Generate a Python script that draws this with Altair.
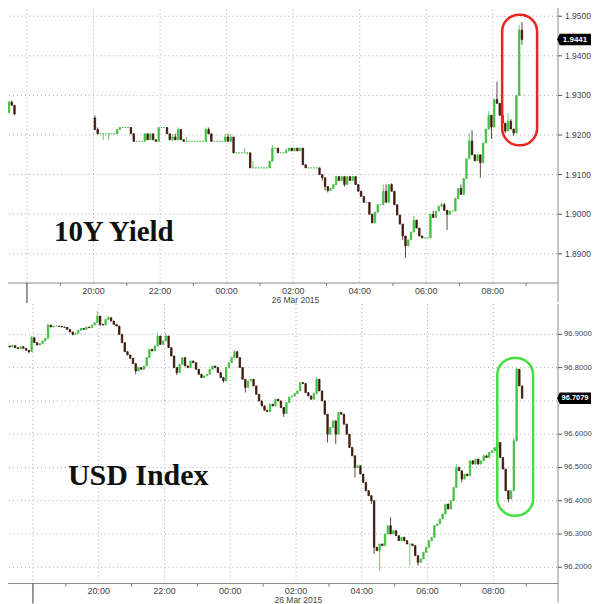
import altair as alt
import pandas as pd

# ---------------- data (5-minute bars, bar index counted from 17:00) ----------------
# 10Y yield: short stretch before the break, then 20:00 -> 08:50
yield_pre_start = 3
yield_pre_open = 1.9277
yield_pre_close = [1.9256, 1.9256, 1.9283, 1.9275, 1.9253]
yield_pre_wick_high = {2: 1.9287, 3: 1.9287}
yield_pre_wick_low = {4: 1.9250}

yield_start = 36
yield_open = 1.9243
yield_close = [
    1.9214, 1.9203, 1.9203, 1.9203, 1.9203, 1.9203, 1.9203, 1.9203, 1.9214, 1.9219,
    1.9219, 1.9219, 1.9219, 1.9203, 1.9184, 1.9184, 1.9184, 1.9184, 1.9203, 1.9188,
    1.9203, 1.9188, 1.9184, 1.9219, 1.9219, 1.9219, 1.9203, 1.9188, 1.9195, 1.9188,
    1.9214, 1.9188, 1.9184, 1.9184, 1.9184, 1.9184, 1.9184, 1.9184, 1.9184, 1.9184,
    1.9214, 1.9203, 1.9184, 1.9184, 1.9184, 1.9184, 1.9184, 1.9195, 1.9184, 1.9195,
    1.9155, 1.9155, 1.9155, 1.9155, 1.9155, 1.9155, 1.9117, 1.9117, 1.9117, 1.9117,
    1.9117, 1.9117, 1.9117, 1.9134, 1.9167, 1.9167, 1.9155, 1.9155, 1.9155, 1.9160,
    1.9167, 1.9160, 1.9167, 1.9160, 1.9167, 1.9125, 1.9117, 1.9117, 1.9117, 1.9117,
    1.9117, 1.9100, 1.9092, 1.9070, 1.9060, 1.9065, 1.9075, 1.9095, 1.9085, 1.9095,
    1.9075, 1.9095, 1.9085, 1.9095, 1.9075, 1.9058, 1.9045, 1.9030, 1.9030, 1.9000,
    1.8978, 1.9005, 1.9024, 1.9024, 1.9058, 1.9030, 1.9075, 1.9058, 1.9024, 1.8998,
    1.8975, 1.8945, 1.8920, 1.8935, 1.8955, 1.8985, 1.8965, 1.8945, 1.8940, 1.8940,
    1.8940, 1.9000, 1.8992, 1.9008, 1.9020, 1.9024, 1.9010, 1.9000, 1.9008, 1.9008,
    1.9040, 1.9065, 1.9050, 1.9090, 1.9140, 1.9185, 1.9150, 1.9135, 1.9150, 1.9130,
    1.9180, 1.9215, 1.9250, 1.9220, 1.9290, 1.9280, 1.9250, 1.9230, 1.9210, 1.9235,
    1.9215, 1.9205, 1.9300, 1.9465, 1.9441,
]
yield_wick_high = {0: 1.9250, 1: 1.9219, 28: 1.9203, 29: 1.9203, 30: 1.9219, 33: 1.9195,
                   40: 1.9219, 41: 1.9219, 47: 1.9203, 48: 1.9203, 49: 1.9203, 54: 1.9167,
                   57: 1.9134, 64: 1.9175, 69: 1.9167, 71: 1.9167, 104: 1.9075, 105: 1.9075,
                   107: 1.9078, 115: 1.8995, 122: 1.9008, 125: 1.9030, 126: 1.9028,
                   132: 1.9075, 135: 1.9205, 136: 1.9212, 137: 1.9150, 142: 1.9260,
                   145: 1.9335, 147: 1.9255, 149: 1.9255, 150: 1.9240, 153: 1.9478, 154: 1.9485}
yield_wick_low = {3: 1.9188, 5: 1.9188, 28: 1.9184, 55: 1.9150, 82: 1.9085, 83: 1.9060,
                  84: 1.9055, 90: 1.9070, 111: 1.8935, 112: 1.8890, 127: 1.8960,
                  139: 1.9092, 143: 1.9190, 148: 1.9205, 151: 1.9198, 154: 1.9428}

# USD index: 17:05 -> 08:50
usd_start = 1
usd_open = 96.870
usd_close = [
    96.875, 96.865, 96.862, 96.866, 96.860, 96.857, 96.863, 96.858, 96.852, 96.848,
    96.890, 96.875, 96.868, 96.872, 96.880, 96.888, 96.928, 96.922, 96.925, 96.925,
    96.924, 96.922, 96.921, 96.915, 96.907, 96.900, 96.903, 96.912, 96.918, 96.915,
    96.922, 96.920, 96.928, 96.935, 96.955, 96.930, 96.928, 96.945, 96.950, 96.940,
    96.930, 96.925, 96.900, 96.875, 96.848, 96.838, 96.828, 96.812, 96.790, 96.800,
    96.795, 96.805, 96.830, 96.855, 96.850, 96.865, 96.895, 96.870, 96.880, 96.895,
    96.860, 96.835, 96.800, 96.785, 96.810, 96.830, 96.805, 96.800, 96.820, 96.815,
    96.795, 96.780, 96.770, 96.775, 96.780, 96.795, 96.805, 96.800, 96.785, 96.770,
    96.760, 96.800, 96.815, 96.830, 96.848, 96.830, 96.800, 96.765, 96.740, 96.760,
    96.765, 96.745, 96.720, 96.700, 96.685, 96.672, 96.668, 96.690, 96.685, 96.705,
    96.700, 96.680, 96.662, 96.695, 96.712, 96.715, 96.722, 96.730, 96.755, 96.752,
    96.725, 96.715, 96.705, 96.722, 96.765, 96.730, 96.700, 96.660, 96.600, 96.620,
    96.640, 96.600, 96.665, 96.660, 96.630, 96.600, 96.560, 96.535, 96.500, 96.505,
    96.480, 96.455, 96.430, 96.415, 96.400, 96.260, 96.250, 96.270, 96.265, 96.300,
    96.325, 96.300, 96.310, 96.295, 96.280, 96.290, 96.280, 96.270, 96.270, 96.265,
    96.235, 96.215, 96.225, 96.245, 96.260, 96.280, 96.290, 96.325, 96.330, 96.345,
    96.360, 96.390, 96.375, 96.400, 96.440, 96.500, 96.490, 96.465, 96.480, 96.475,
    96.520, 96.510, 96.525, 96.510, 96.520, 96.535, 96.530, 96.545, 96.550, 96.560,
    96.575, 96.530, 96.495, 96.430, 96.405, 96.430, 96.580, 96.795, 96.745, 96.7079,
]
usd_wick_high = {0: 96.885, 10: 96.896, 16: 96.933, 34: 96.970, 38: 96.956, 56: 96.905,
                 59: 96.905, 84: 96.852, 114: 96.772, 141: 96.350, 165: 96.510,
                 180: 96.585, 186: 96.590, 187: 96.800, 189: 96.735}
usd_wick_low = {0: 96.860, 9: 96.843, 25: 96.897, 35: 96.925, 48: 96.780, 63: 96.778,
                80: 96.755, 88: 96.725, 102: 96.652, 118: 96.575, 121: 96.570,
                128: 96.470, 134: 96.390, 135: 96.240, 137: 96.190, 148: 96.205,
                151: 96.205, 167: 96.455, 184: 96.395}

# axes / annotations
yield_ticks = [1.89, 1.90, 1.91, 1.92, 1.93, 1.94, 1.95]
usd_ticks = [96.2, 96.3, 96.4, 96.5, 96.6, 96.7, 96.8, 96.9]
grid_hours = [0, 2, 4, 6, 8, 10, 12, 14, 16]     # hours after 18:00
label_hours = [2, 4, 6, 8, 10, 12, 14]
label_text = ["20:00", "22:00", "00:00", "02:00", "04:00", "06:00", "08:00"]
minor_hours = [1, 3, 5, 7, 9, 11, 13, 15]
yield_box = {"h0": [14.28], "h1": [15.33], "v0": [1.9174], "v1": [1.9504]}
usd_box = {"h0": [14.12], "h1": [15.21], "v0": [96.355], "v1": [96.829]}
day_start_hour = [0]
date_label_hour = [8.07]
date_label = ["26 Mar 2015"]

UP = "#45c045"
DOWN = "#3f1a0e"
GRID = "#a8a8a8"
AXIS = "#8a8a8a"
LABEL = "#444444"
LABEL_FONT = "Liberation Sans"
W = 558


def make_bars(start, first_open, closes, hi, lo):
    rows = []
    prev = first_open
    for k, c in enumerate(closes):
        h0 = (start + k) / 12 - 1
        o = prev
        rows.append(dict(
            t0=h0 + 0.02, t1=h0 + 1 / 12 - 0.02, tm=h0 + 1 / 24,
            open=o, close=c,
            high=max(o, c, hi.get(k, o)), low=min(o, c, lo.get(k, o)),
            dir="up" if c >= o else "down"))
        prev = c
    return pd.DataFrame(rows)


yield_df = pd.concat([
    make_bars(yield_pre_start, yield_pre_open, yield_pre_close, yield_pre_wick_high, yield_pre_wick_low),
    make_bars(yield_start, yield_open, yield_close, yield_wick_high, yield_wick_low),
], ignore_index=True)
usd_df = make_bars(usd_start, usd_open, usd_close, usd_wick_high, usd_wick_low)


def panel(df, xdomain, ydomain, yticks, height, box, box_color, title, title_x, title_y,
          title_size, tag_size, ylab_size, ylab_x):
    xs = alt.Scale(domain=xdomain, nice=False, zero=False)
    ys = alt.Scale(domain=ydomain, nice=False, zero=False)
    dir_scale = alt.Scale(domain=["up", "down"], range=[UP, DOWN])
    X = lambda f: alt.X(f, scale=xs, axis=None)
    Y = lambda f: alt.Y(f, scale=ys, axis=None)
    px_per_unit = height / (ydomain[1] - ydomain[0])
    last = df["close"].iloc[-1]

    # dotted grid
    vgrid = alt.Chart(pd.DataFrame({"h": [h for h in grid_hours if h < xdomain[1]]})).mark_rule(
        color=GRID, strokeDash=[1, 3], strokeWidth=1).encode(
        x=X("h:Q"), y=alt.value(0), y2=alt.value(height))
    hgrid = alt.Chart(pd.DataFrame({"v": yticks})).mark_rule(
        color=GRID, strokeDash=[1, 3], strokeWidth=1).encode(
        y=Y("v:Q"), x=alt.value(0), x2=alt.value(W))

    # axis lines, ticks and labels
    frame = alt.Chart(pd.DataFrame({"k": [0]}))
    xdom = frame.mark_rule(color=AXIS, strokeWidth=1).encode(
        x=alt.value(0), x2=alt.value(W), y=alt.value(height))
    ydom = frame.mark_rule(color=AXIS, strokeWidth=1).encode(
        x=alt.value(W), y=alt.value(0), y2=alt.value(height + 19))
    minor = alt.Chart(pd.DataFrame({"h": minor_hours})).mark_rule(
        color="#777", strokeWidth=1).encode(
        x=X("h:Q"), y=alt.value(height), y2=alt.value(height + 3))
    xlab = alt.Chart(pd.DataFrame({"h": label_hours, "t": label_text})).mark_text(
        font=LABEL_FONT, fontSize=9, color=LABEL, baseline="middle").encode(
        x=X("h:Q"), y=alt.value(height + 7.5), text="t:N")
    # labels hidden behind the last-price tag are not drawn (as in the original)
    shown = [v for v in yticks if abs(v - last) * px_per_unit > 7]
    ylab_df = pd.DataFrame({"v": shown, "t": ["{:.4f}".format(v) for v in shown]})
    ytick = alt.Chart(pd.DataFrame({"v": yticks})).mark_rule(color="#555", strokeWidth=1).encode(
        y=Y("v:Q"), x=alt.value(W), x2=alt.value(W + 4))
    ylab = alt.Chart(ylab_df).mark_text(
        font=LABEL_FONT, fontSize=ylab_size, color=LABEL, align="left",
        baseline="middle").encode(y=Y("v:Q"), x=alt.value(ylab_x), text="t:N")

    base = alt.Chart(df)
    body = base.mark_rect(strokeWidth=0.8).encode(
        x=X("t0:Q"), x2="t1:Q", y=Y("open:Q"), y2="close:Q",
        color=alt.Color("dir:N", scale=dir_scale, legend=None),
        stroke=alt.Stroke("dir:N", scale=dir_scale, legend=None))
    wick = base.mark_rule(strokeWidth=0.8).encode(
        x=X("tm:Q"), y=Y("low:Q"), y2="high:Q",
        color=alt.Color("dir:N", scale=dir_scale, legend=None))

    hl = alt.Chart(pd.DataFrame(box)).mark_rect(
        fillOpacity=0, stroke=box_color, strokeWidth=2.5, cornerRadius=17).encode(
        x=X("h0:Q"), x2="h1:Q", y=Y("v0:Q"), y2="v1:Q")

    day_tick = alt.Chart(pd.DataFrame({"h": day_start_hour})).mark_rule(
        color="#333", strokeWidth=1).encode(
        x=X("h:Q"), y=alt.value(height), y2=alt.value(height + 20))

    date_txt = alt.Chart(pd.DataFrame({"h": date_label_hour, "t": date_label})).mark_text(
        font=LABEL_FONT, fontSize=8.5, color=LABEL, baseline="middle").encode(
        x=X("h:Q"), y=alt.value(height + 17), text="t:N")

    ttl = alt.Chart(pd.DataFrame({"t": [title]})).mark_text(
        font="Liberation Serif", fontSize=title_size, fontWeight="bold", color="#111",
        align="left", baseline="alphabetic").encode(
        x=alt.value(title_x), y=alt.value(title_y), text="t:N")

    lab_df = pd.DataFrame({"v": [last], "txt": ["{:.4f}".format(last)]})
    tag = alt.Chart(lab_df).mark_point(
        shape="M-1.12,0 L-0.96,-0.36 L1,-0.36 L1,0.36 L-0.96,0.36 Z",
        filled=True, fill="#000", strokeWidth=0, opacity=1, size=1024).encode(
        x=alt.value(W + 17), y=Y("v:Q"))
    tag_txt = alt.Chart(lab_df).mark_text(
        font=LABEL_FONT, fontSize=tag_size, fontWeight="bold", color="white",
        align="center", baseline="middle").encode(
        x=alt.value(W + 17), y=Y("v:Q"), text="txt:N")

    return alt.layer(vgrid, hgrid, xdom, ydom, minor, xlab, ytick, ylab, body, wick, hl,
                     day_tick, date_txt, ttl, tag, tag_txt).properties(width=W, height=height)


top = panel(yield_df, [-0.78, (W - 26) / 33.333], [1.88262, 1.95371], yield_ticks, 282,
            yield_box, "#e8261f", "10Y Yield", 53, 240, 29, 8, 8.5, W + 7)
bottom = panel(usd_df, [-0.9715, (W - 32) / 32.94], [96.1511, 96.9912], usd_ticks, 280,
               usd_box, "#3fe03f", "USD Index", 67, 181, 30, 7.5, 7.7, W + 6)

chart = alt.vconcat(top, bottom, spacing=21, bounds="flush").configure_view(
    stroke=None).properties(padding={"left": -8, "top": -8, "right": 0, "bottom": 0})

chart.save("out.html", embed_options={"renderer": "svg", "actions": False})
